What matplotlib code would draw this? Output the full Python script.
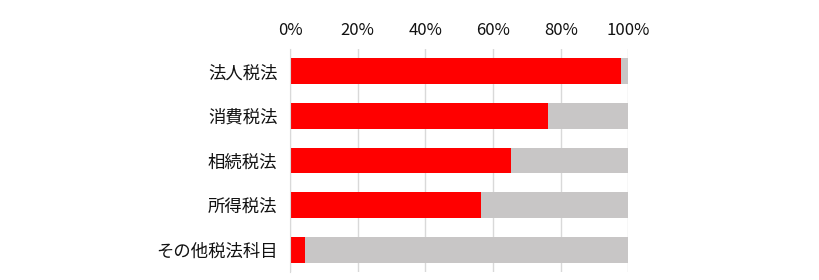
import matplotlib
matplotlib.use("Agg")
import matplotlib.pyplot as plt
import numpy as np

plt.rcParams['font.family'] = ['Noto Sans CJK JP', 'DejaVu Sans']

categories = ['法人税法', '消費税法', '相続税法', '所得税法', 'その他税法科目']
red_values = [97.8, 76.1, 65.3, 56.5, 4.4]
gray_values = [100 - v for v in red_values]
tick_values = [0, 20, 40, 60, 80, 100]
tick_labels = ['0%', '20%', '40%', '60%', '80%', '100%']

fig = plt.figure(figsize=(8.2, 2.8), dpi=100)
ax = fig.add_axes([290/820, 1 - 272/280, (628.5 - 290)/820, (272 - 49)/280])

y = np.arange(len(categories))
ax.barh(y, red_values, height=0.58, color='#ff0000', zorder=3)
ax.barh(y, gray_values, left=red_values, height=0.58, color='#c8c6c6', zorder=3)

ax.set_xlim(0, 100)
ax.set_ylim(len(categories) - 0.5, -0.5)
ax.set_yticks(y)
ax.set_yticklabels(categories, fontsize=12.5, color='#111111')
ax.xaxis.tick_top()
ax.set_xticks(tick_values)
ax.set_xticklabels(tick_labels, fontsize=12, color='#111111')
ax.tick_params(axis='both', length=0)
ax.tick_params(axis='x', pad=7)
ax.tick_params(axis='y', pad=9)
ax.grid(axis='x', color='#d9d9d9', linewidth=1, zorder=0)
for s in ['top', 'right', 'bottom']:
    ax.spines[s].set_visible(False)
ax.spines['left'].set_color('#d9d9d9')
ax.spines['left'].set_zorder(4)

fig.savefig('out.png', dpi=100)
